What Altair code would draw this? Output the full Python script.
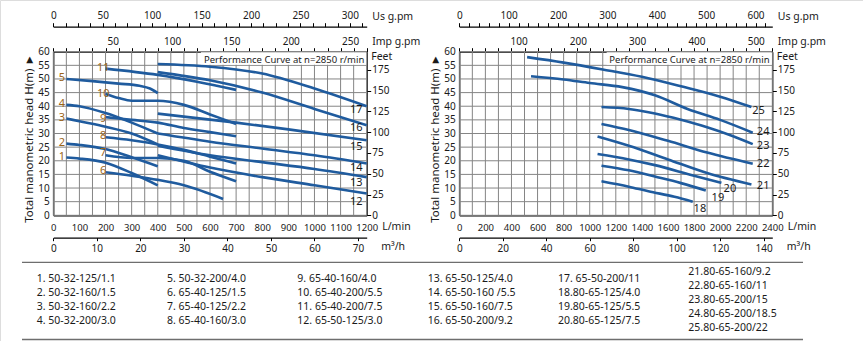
import altair as alt
import pandas as pd
import numpy as np

# ---------------- layout constants (pixels) ----------------
W, H = 863, 341
LX0, LX1 = 53.3, 366.7      # left panel plot area x-range
RX0, RX1 = 459.3, 772.3     # right panel plot area x-range
YT, YB = 51.7, 215.3        # plot area y-range (both panels)

BLUE = '#1f5b9e'
GRID = '#858585'
INK = '#1a1a1a'
LBL = '#9a6418'
FONT = 'Noto Sans'

US_GPM = 3.78541   # L/min per US gpm
IMP_GPM = 4.54609  # L/min per Imp gpm
FT = 0.3048        # m per ft

# ---------------- data: flow (L/min), head (m) ----------------
c1 = [(50, 21.2), (100, 20.8), (200, 19.3), (300, 15.5), (400, 11.0)]
c2 = [(50, 26.3), (100, 25.8), (200, 24.3), (300, 21.3), (400, 18.0)]
c3 = [(50, 35.5), (100, 34.5), (200, 32.5), (300, 30.0), (400, 26.0)]
c4 = [(50, 40.5), (100, 40.0), (200, 37.5), (300, 34.0), (400, 30.0)]
c5 = [(50, 50.0), (150, 49.2), (250, 48.3), (330, 47.5), (370, 46.5), (400, 44.8)]
c6 = [(200, 15.8), (300, 14.5), (400, 13.0), (500, 11.0), (650, 6.0)]
c7 = [(200, 22.0), (300, 21.0), (400, 21.0), (500, 20.0), (600, 16.0), (700, 12.5)]
c8 = [(200, 28.6), (300, 27.5), (400, 26.0), (500, 24.0), (600, 21.5), (700, 19.0)]
c9 = [(200, 36.0), (300, 35.0), (400, 34.0), (500, 32.0), (600, 30.5), (700, 29.0)]
c10 = [(200, 44.5), (250, 43.0), (300, 42.0), (400, 42.0), (500, 40.5), (600, 37.0), (700, 33.5)]
c11 = [(200, 53.8), (400, 51.5), (550, 49.0), (700, 46.0)]
c12 = [(400, 22.0), (600, 17.5), (800, 14.0), (1000, 11.0), (1200, 8.0)]
c13 = [(400, 25.5), (600, 22.0), (800, 19.5), (1000, 17.0), (1200, 14.0)]
c14 = [(400, 30.0), (600, 27.0), (800, 24.5), (1000, 22.0), (1200, 19.0)]
c15 = [(400, 37.3), (700, 34.0), (900, 31.5), (1200, 27.5)]
c16 = [(400, 52.5), (600, 49.5), (800, 45.0), (1000, 39.0), (1200, 33.0)]
c17 = [(400, 55.5), (600, 54.5), (800, 52.0), (1000, 46.5), (1200, 40.0)]

c18 = [(1090, 12.5), (1300, 10.5), (1450, 8.8), (1650, 6.8), (1790, 5.0)]
c19 = [(1090, 18.2), (1300, 16.5), (1500, 14.2), (1700, 11.8), (1890, 9.1)]
c20 = [(1060, 22.5), (1300, 20.5), (1500, 18.4), (1800, 14.5), (2010, 11.9)]
c21 = [(1060, 28.9), (1300, 25.5), (1600, 20.5), (1900, 15.5), (2240, 11.3)]
c22 = [(1090, 33.5), (1300, 31.3), (1600, 27.3), (1900, 23.0), (2250, 18.9)]
c23 = [(1090, 39.7), (1300, 39.0), (1500, 37.3), (1700, 35.0), (1900, 32.3), (2100, 29.0), (2250, 26.1)]
c24 = [(550, 51.0), (800, 49.8), (1000, 48.5), (1250, 47.0), (1500, 44.0), (1750, 39.0), (2000, 35.0), (2250, 30.3)]
c25 = [(520, 58.0), (800, 56.0), (1100, 53.5), (1400, 50.8), (1700, 47.3), (2000, 43.5), (2240, 39.7)]

LEFT_IDS = list(range(1, 18))
RIGHT_IDS = list(range(18, 26))
CURVES = [c1, c2, c3, c4, c5, c6, c7, c8, c9, c10, c11, c12, c13, c14, c15, c16, c17,
          c18, c19, c20, c21, c22, c23, c24, c25]

# curve number labels: (id, flow, head)
LEFT_LABEL_IDS = [1, 2, 3, 4, 5, 6, 7, 8, 9, 10, 11, 12, 13, 14, 15, 16, 17]
LEFT_LABEL_Q = [33, 33, 33, 33, 33, 191, 191, 191, 191, 191, 191, 1160, 1160, 1160, 1160, 1160, 1160]
LEFT_LABEL_H = [21.2, 26.5, 35.6, 40.7, 50.2, 16.2, 22.8, 29.0, 35.2, 44.4, 54.1, 4.9, 11.8, 17.3, 25.0, 32.0, 38.5]
RIGHT_LABEL_IDS = [18, 19, 20, 21, 22, 23, 24, 25]
RIGHT_LABEL_Q = [1845, 1983, 2075, 2330, 2330, 2330, 2330, 2295]
RIGHT_LABEL_H = [2.3, 6.3, 9.6, 10.7, 18.8, 25.5, 30.7, 38.3]

LEGEND = ["1. 50-32-125/1.1", "2. 50-32-160/1.5", "3. 50-32-160/2.2", "4. 50-32-200/3.0",
          "5. 50-32-200/4.0", "6. 65-40-125/1.5", "7. 65-40-125/2.2", "8. 65-40-160/3.0",
          "9. 65-40-160/4.0", "10. 65-40-200/5.5", "11. 65-40-200/7.5", "12. 65-50-125/3.0",
          "13. 65-50-125/4.0", "14. 65-50-160 /5.5", "15. 65-50-160/7.5", "16. 65-50-200/9.2",
          "17. 65-50-200/11", "18.80-65-125/4.0", "19.80-65-125/5.5", "20.80-65-125/7.5",
          "21.80-65-160/9.2", "22.80-65-160/11", "23.80-65-200/15", "24.80-65-200/18.5",
          "25.80-65-200/22"]

TITLE_TEXT = "Performance Curve at n=2850 r/min"

# ---------------- frames ----------------
rows = []
for i, c in enumerate(CURVES):
    for q, h in c:
        rows.append({'id': i + 1, 'q': q, 'h': h})
curves = pd.DataFrame(rows)
left_curves = curves[curves.id.isin(LEFT_IDS)]
right_curves = curves[curves.id.isin(RIGHT_IDS)]

sxL = alt.Scale(domain=[0, 1200], range=[LX0, LX1], nice=False, zero=False)
sxR = alt.Scale(domain=[0, 2400], range=[RX0, RX1], nice=False, zero=False)
sy = alt.Scale(domain=[0, 60], range=[YB, YT], nice=False, zero=False)


def grid_layers(sx, qmax, qstep):
    v = pd.DataFrame({'q': np.arange(0, qmax + 1, qstep), 'h0': 0, 'h1': 60})
    hz = pd.DataFrame({'h': np.arange(0, 61, 5), 'q0': 0, 'q1': qmax})
    lv = alt.Chart(v).mark_rule(color=GRID, strokeWidth=1).encode(
        x=alt.X('q:Q', scale=sx, axis=None), y=alt.Y('h0:Q', scale=sy, axis=None), y2='h1:Q')
    lh = alt.Chart(hz).mark_rule(color=GRID, strokeWidth=1).encode(
        y=alt.Y('h:Q', scale=sy, axis=None), x=alt.X('q0:Q', scale=sx, axis=None), x2='q1:Q')
    return [lv, lh]


def title_box(sx, q0, q1, qtext):
    box = alt.Chart(pd.DataFrame({'q0': [q0], 'q1': [q1], 'h0': [55.2], 'h1': [59.8]})).mark_rect(
        color='white').encode(x=alt.X('q0:Q', scale=sx, axis=None), x2='q1:Q',
                              y=alt.Y('h0:Q', scale=sy, axis=None), y2='h1:Q')
    txt = alt.Chart(pd.DataFrame({'q': [qtext], 'h': [57.0], 't': [TITLE_TEXT]})).mark_text(
        align='left', baseline='middle', font=FONT, fontSize=9.5, color=INK).encode(
        x=alt.X('q:Q', scale=sx, axis=None), y=alt.Y('h:Q', scale=sy, axis=None), text='t:N')
    return [box, txt]


def curve_layer(df, sx):
    return alt.Chart(df).mark_line(color=BLUE, strokeWidth=2.6, interpolate='monotone').encode(
        x=alt.X('q:Q', scale=sx, axis=None), y=alt.Y('h:Q', scale=sy, axis=None), detail='id:N')


def label_layer(ids, qs, hs, sx):
    df = pd.DataFrame({'id': [str(i) for i in ids], 'q': qs, 'h': hs,
                       'c': [LBL if i <= 11 else INK for i in ids]})
    return alt.Chart(df).mark_text(font=FONT, fontSize=11, align='center', baseline='middle').encode(
        x=alt.X('q:Q', scale=sx, axis=None), y=alt.Y('h:Q', scale=sy, axis=None),
        text='id:N', color=alt.Color('c:N', scale=None))


def xaxis(sx, **kw):
    return alt.Chart(pd.DataFrame({'v': [0]})).mark_point(opacity=0).encode(
        x=alt.X('v:Q', scale=sx, axis=alt.Axis(**kw)))


def yaxis(**kw):
    return alt.Chart(pd.DataFrame({'v': [0]})).mark_point(opacity=0).encode(
        y=alt.Y('v:Q', scale=sy, axis=alt.Axis(**kw)))


def panel_axes(sx, x0, x1, qmax, qstep, us_minor, us_major, us_max, imp_vals, lmin_step, m3_step):
    ax = []
    # US gpm axis
    us_vals = [g * US_GPM for g in np.arange(0, us_max + 0.01, us_minor)]
    ax.append(xaxis(sx, orient='top', offset=-26.7, values=us_vals, tickSize=4,
                    labelExpr=f"(round(datum.value/{US_GPM}) % {us_major} == 0) ? format(round(datum.value/{US_GPM}),'d') : ''",
                    labelOverlap=False, labelFlush=False, labelPadding=2,
                    title='Us  g.pm', titleX=x1 + 5, titleY=-10, titleAlign='left',
                    titleBaseline='middle', titleFontWeight='normal'))
    # Imp gpm axis (labels only)
    ax.append(xaxis(sx, orient='top', offset=-YT, values=[g * IMP_GPM for g in imp_vals],
                    ticks=False, tickSize=0, domain=False, labelPadding=5,
                    labelExpr=f"format(round(datum.value/{IMP_GPM}),'d')",
                    labelOverlap=False, labelFlush=False,
                    title='Imp  g.pm', titleX=x1 + 5, titleY=-10, titleAlign='left',
                    titleBaseline='middle', titleFontWeight='normal'))
    # top frame with gridline ticks
    ax.append(xaxis(sx, orient='top', offset=-YT, values=list(np.arange(0, qmax + 1, qstep)),
                    tickSize=4, labels=False, title=None))
    # L/min axis
    ax.append(xaxis(sx, orient='bottom', offset=YB - H, values=list(np.arange(0, qmax + 1, lmin_step)),
                    ticks=False, tickSize=0, labelPadding=7, labelOverlap=False, labelFlush=False,
                    labelExpr="format(datum.value,'d')", labelFontSize=9.5,
                    title='L/min', titleX=x1 + 15, titleY=11.5, titleAlign='left',
                    titleBaseline='middle', titleFontWeight='normal'))
    # m3/h axis
    m3_vals = [m * 1000 / 60 for m in np.arange(0, qmax * 0.06 + 0.01, m3_step)]
    ax.append(xaxis(sx, orient='bottom', offset=YB - H + 22.4, values=m3_vals, tickSize=3,
                    labelPadding=3, labelOverlap=False, labelFlush=False,
                    labelExpr="format(round(datum.value*0.06),'d')",
                    title='m³/h', titleX=x1 + 14, titleY=9, titleAlign='left',
                    titleBaseline='middle', titleFontWeight='normal'))
    # left head axis
    ax.append(yaxis(orient='left', offset=-x0, values=list(range(0, 61, 5)), tickSize=0,
                    labelPadding=4, title='Total manometric head H(m) ►', titleAngle=270,
                    titleX=-24, titleY=138, titleAlign='center', titleBaseline='middle',
                    titleFontWeight='normal', titleFontSize=11.5))
    # right feet axis
    ax.append(yaxis(orient='right', offset=x1 - W, values=[f * FT for f in range(0, 176, 25)],
                    tickSize=4, labelPadding=1,
                    labelExpr=f"format(round(datum.value/{FT}),'d')",
                    title='Feet', titleAngle=0, titleX=4, titleY=YT + 5, titleAlign='left',
                    titleBaseline='middle', titleFontWeight='normal'))
    return ax


layers = []
layers += grid_layers(sxL, 1200, 50)
layers += grid_layers(sxR, 2400, 100)
layers += title_box(sxL, 565, 1198, 577)
layers += title_box(sxR, 1130, 2396, 1150)
layers.append(curve_layer(left_curves, sxL))
layers.append(curve_layer(right_curves, sxR))
layers.append(label_layer(LEFT_LABEL_IDS, LEFT_LABEL_Q, LEFT_LABEL_H, sxL))
layers.append(label_layer(RIGHT_LABEL_IDS, RIGHT_LABEL_Q, RIGHT_LABEL_H, sxR))
layers += panel_axes(sxL, LX0, LX1, 1200, 50, 12.5, 50, 312.5, [50, 100, 150, 200, 250], 100, 10)
layers += panel_axes(sxR, RX0, RX1, 2400, 100, 20, 100, 620, [100, 200, 300, 400, 500], 200, 20)

# legend table
leg = pd.DataFrame({'t': LEGEND,
                    'col': [i // 4 if i < 20 else 5 for i in range(25)],
                    'row': [0.5 + i % 4 if i < 20 else i - 20 for i in range(25)]})
layers.append(alt.Chart(leg).mark_text(align='left', baseline='middle', font=FONT, fontSize=10.5,
                                       color=INK).encode(
    x=alt.X('col:Q', scale=alt.Scale(domain=[0, 5], range=[36.7, 688.3]), axis=None),
    y=alt.Y('row:Q', scale=alt.Scale(domain=[0, 4], range=[271.7, 327.7]), axis=None),
    text='t:N'))
for yy in (262.3, 339.5):
    layers.append(alt.Chart(pd.DataFrame({'a': [0]})).mark_rule(color='#6e6e6e', strokeWidth=1.3).encode(
        x=alt.value(22), x2=alt.value(803), y=alt.value(yy)))

chart = alt.layer(*layers).resolve_scale(x='independent', y='independent').properties(
    width=W, height=H, autosize=alt.AutoSizeParams(type='none'), padding=0
).configure_view(stroke=None).configure(background='white').configure_axis(
    labelFont=FONT, labelFontSize=10, labelColor=INK, titleFont=FONT, titleFontSize=10.5,
    titleColor=INK, domainColor='#000000', tickColor='#000000', grid=False, domainWidth=1.2
)

chart.save("out.html", embed_options={"renderer": "svg", "actions": False})
